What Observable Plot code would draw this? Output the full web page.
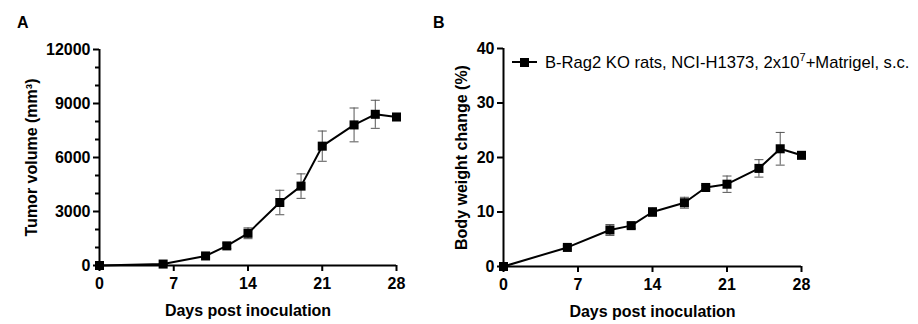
<!DOCTYPE html>
<html>
<head>
<meta charset="utf-8">
<script src="https://cdn.jsdelivr.net/npm/d3@7"></script>
<script src="https://cdn.jsdelivr.net/npm/@observablehq/plot@0.6"></script>
<style>
  html, body { margin: 0; padding: 0; background: #fff; }
  #root { position: relative; width: 918px; height: 324px; font-family: "Liberation Sans", Arial, sans-serif; }
  .panel { position: absolute; top: 0; }
  .panel svg text { font-size: 16px; font-weight: bold; font-family: "Liberation Sans", Arial, sans-serif; }
  .tag { position: absolute; font-weight: bold; font-size: 16px; }
  #legend { position: absolute; left: 511px; top: 51px; display: flex; align-items: center; font-size: 16.6px; white-space: nowrap; }
  #legend svg { margin-right: 7px; }
</style>
</head>
<body>
<div id="root">
  <div class="tag" style="left:17px; top:14px;">A</div>
  <div class="tag" style="left:433px; top:14px;">B</div>
  <div class="panel" id="pa" style="left:0px;"></div>
  <div class="panel" id="pb" style="left:430px;"></div>
  <div id="legend"><svg width="27" height="12"><line x1="1" x2="26" y1="6" y2="6" stroke="#000" stroke-width="2"/><rect x="9" y="2" width="9" height="9" fill="#000"/></svg><span id="legendText"></span></div>
</div>
<script>
// ---- data ----
const days = [0, 6, 10, 12, 14, 17, 19, 21, 24, 26, 28];
const tumorMean = [0, 80, 530, 1090, 1790, 3500, 4410, 6630, 7810, 8400, 8250];
const tumorSem  = [0, 30, 100, 150, 300, 680, 680, 840, 940, 780, 100];
const bodyMean = [0, 3.5, 6.7, 7.5, 10.0, 11.7, 14.5, 15.1, 18.0, 21.6, 20.4];
const bodySem  = [0, 0.3, 1.0, 0.5, 0.8, 1.0, 0.4, 1.5, 1.6, 3.0, 0.3];
const xTicks = [0, 7, 14, 21, 28];
const yTicksA = [0, 3000, 6000, 9000, 12000];
const yMinorA = [1000, 2000, 4000, 5000, 7000, 8000, 10000, 11000];
const yTicksB = [0, 10, 20, 30, 40];
const titleA = "Tumor volume (mm³)";
const titleB = "Body weight change (%)";
const xTitle = "Days post inoculation";
const legendLabel = "B-Rag2 KO rats, NCI-H1373, 2x10";
const legendSup = "7";
const legendRest = "+Matrigel, s.c.";

const sup = document.createElement("sup");
sup.textContent = legendSup;
sup.style.fontSize = "11px";
const lt = document.getElementById("legendText");
lt.append(legendLabel, sup, legendRest);

const capSymbol = {
  draw(ctx, size) {
    const r = Math.sqrt(size / Math.PI);
    ctx.moveTo(-r, 0);
    ctx.lineTo(r, 0);
  }
};

function panel({mean, sem, yDomain, yTicks, yMinor, yTitle, width, marginLeft, marginRight, marginTop, marginBottom, yLabelOffset}) {
  const data = days.map((d, i) => ({day: d, m: mean[i], lo: mean[i] - sem[i], hi: mean[i] + sem[i]}));
  const marks = [
    Plot.ruleX(data, {x: "day", y1: "lo", y2: "hi", stroke: "#555", strokeWidth: 1}),
    Plot.dot(data, {x: "day", y: "lo", symbol: capSymbol, r: 4.5, stroke: "#555", strokeWidth: 1}),
    Plot.dot(data, {x: "day", y: "hi", symbol: capSymbol, r: 4.5, stroke: "#555", strokeWidth: 1}),
    Plot.line(data, {x: "day", y: "m", stroke: "#000", strokeWidth: 2}),
    Plot.dot(data, {x: "day", y: "m", symbol: "square", r: 5.1, fill: "#000", stroke: null}),
    Plot.axisX({ticks: xTicks, tickSize: 6, tickPadding: 6, tickFormat: d => String(d), strokeWidth: 2, fontSize: 16, fontWeight: "bold",
      label: xTitle, labelAnchor: "center", labelOffset: 50, labelArrow: "none"}),
    Plot.axisY({ticks: yTicks, tickSize: 6, tickPadding: 3, tickFormat: d => String(d), strokeWidth: 2, fontSize: 16, fontWeight: "bold",
      label: yTitle, labelAnchor: "center", labelOffset: yLabelOffset, labelArrow: "none"}),
  ];
  if (yMinor) marks.push(Plot.axisY({ticks: yMinor, tickSize: 4, text: null, label: null, strokeWidth: 2}));
  marks.push(Plot.ruleX([0], {stroke: "#000", strokeWidth: 2}));
  marks.push(Plot.ruleY([yDomain[0]], {stroke: "#000", strokeWidth: 2}));
  return Plot.plot({
    width, height: 324, marginLeft, marginRight, marginTop, marginBottom,
    x: {domain: [0, 28]},
    y: {domain: yDomain},
    style: {fontFamily: "'Liberation Sans', Arial, sans-serif", fontSize: "16px", fontWeight: "bold", color: "#000", background: "transparent", overflow: "visible"},
    marks
  });
}

document.getElementById("pa").append(panel({
  mean: tumorMean, sem: tumorSem, yDomain: [0, 12000], yTicks: yTicksA, yMinor: yMinorA, yTitle: titleA,
  width: 430, marginLeft: 99, marginRight: 34, marginTop: 49, marginBottom: 59, yLabelOffset: 74
}));
document.getElementById("pb").append(panel({
  mean: bodyMean, sem: bodySem, yDomain: [0, 40], yTicks: yTicksB, yMinor: null, yTitle: titleB,
  width: 488, marginLeft: 73, marginRight: 117, marginTop: 48, marginBottom: 58, yLabelOffset: 48
}));
</script>
</body>
</html>
